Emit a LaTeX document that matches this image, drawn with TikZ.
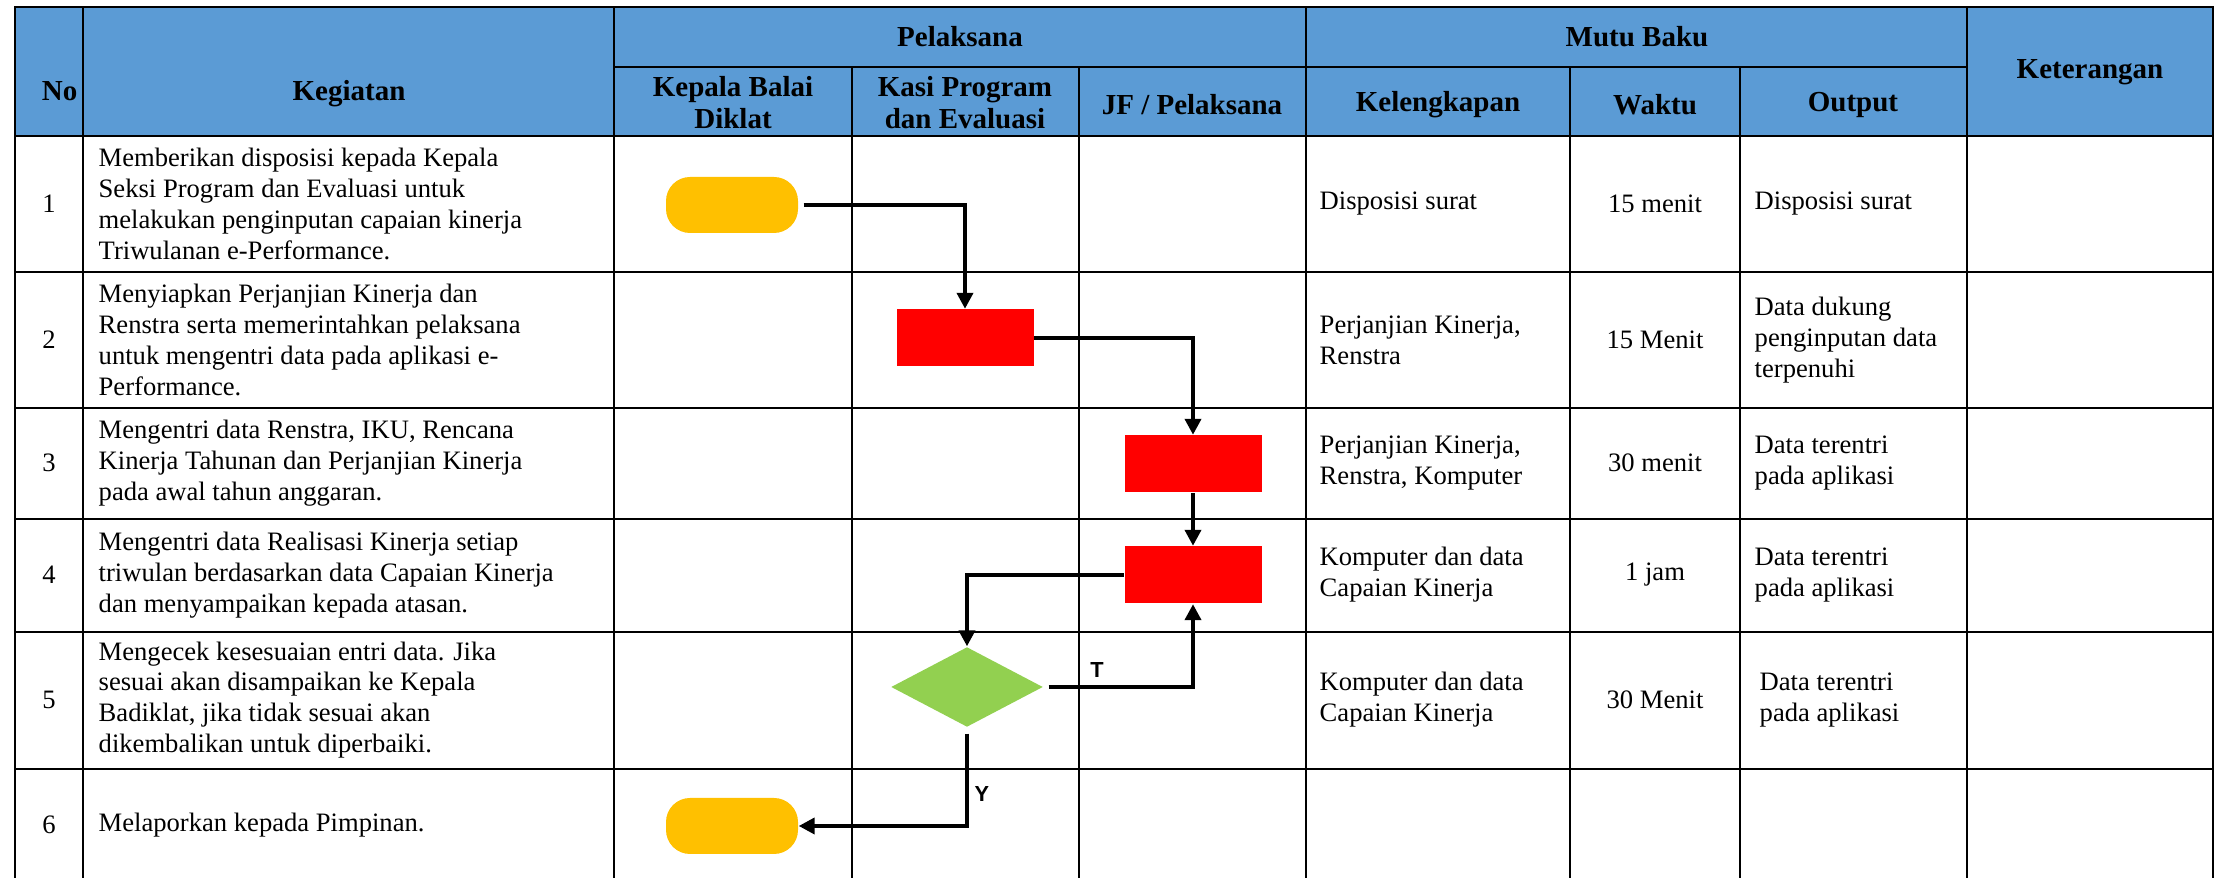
\documentclass[tikz,border=0pt]{standalone}
\usepackage{fontspec}
\setmainfont{Liberation Serif}
\setsansfont{Liberation Sans}
\usepackage{xcolor}
\usetikzlibrary{arrows.meta,shapes.geometric}
\definecolor{hdrblue}{HTML}{5B9BD5}
\definecolor{termyellow}{HTML}{FFC000}
\definecolor{procred}{HTML}{FF0000}
\definecolor{decgreen}{HTML}{92D050}

\begin{document}
\begin{tikzpicture}[x=0.1mm, y=-0.1mm,
        tableline/.style={line width=0.65pt, line cap=rect},
        hdr/.style={font=\fontsize{8.25}{9.1}\selectfont\bfseries, inner sep=0, align=center},
        cell/.style={font=\fontsize{7.57}{8.76}\selectfont, inner sep=0, align=left},
        terminal/.style={rectangle, rounded corners=2.4mm, fill=termyellow, minimum width=13.2mm, minimum height=5.6mm, inner sep=0},
        process/.style={rectangle, fill=procred, minimum width=13.7mm, minimum height=5.7mm, inner sep=0},
        decision/.style={diamond, fill=decgreen, minimum width=15.2mm, minimum height=8mm, inner sep=0},
        flow/.style={-{Triangle[length=1.6mm,width=1.6mm]}, line width=1.1pt},
        yn/.style={font=\sffamily\bfseries\fontsize{6.2}{7}\selectfont, inner sep=0}]
            \useasboundingbox (0,0) rectangle (2223,878);

            % Header background
            \fill[hdrblue] (15,7) rectangle (2213,136);

            % Table lines
            \draw[tableline] (15,7) -- (2213,7);
            \draw[tableline] (614,67) -- (1967,67);
            \foreach \y in {136,272,408,519,632,769}
                \draw[tableline] (15,\y) -- (2213,\y);
            \foreach \x in {15,83,614,1306,1967,2213}
                \draw[tableline] (\x,7) -- (\x,878);
            \foreach \x in {852,1079,1570,1740}
                \draw[tableline] (\x,67) -- (\x,878);

            % Header
            \node[hdr, anchor=base east] (hno) at (78,101) {No};
            \node[hdr, anchor=base] (hkegiatan) at (349,101) {Kegiatan};
            \node[hdr] (hpelaksana) at (960,37) {Pelaksana};
            \node[hdr] (hmutu) at (1637,37) {Mutu Baku};
            \node[hdr] (hketerangan) at (2090,72) {Keterangan};
            \node[hdr] (hkepala) at (733,103) {Kepala Balai\\Diklat};
            \node[hdr] (hkasi) at (965,103) {Kasi Program\\dan Evaluasi};
            \node[hdr] (hjf) at (1192,105) {JF / Pelaksana};
            \node[hdr] (hkelengkapan) at (1438,105) {Kelengkapan};
            \node[hdr] (hwaktu) at (1655,105) {Waktu};
            \node[hdr] (houtput) at (1853,105) {Output};

            % Row 1
            \node[cell] (no1) at (49,204) {1};
            \node[cell, anchor=west] (keg1) at (98,204) {Memberikan disposisi kepada Kepala\\Seksi Program dan Evaluasi untuk\\melakukan penginputan capaian kinerja\\Triwulanan e-Performance.};
            \node[cell, anchor=west] (kel1) at (1319,204) {Disposisi surat};
            \node[cell] (wak1) at (1655,204) {15 menit};
            \node[cell, anchor=west] (out1) at (1754,204) {Disposisi surat};

            % Row 2
            \node[cell] (no2) at (49,340) {2};
            \node[cell, anchor=west] (keg2) at (98,340) {Menyiapkan Perjanjian Kinerja dan\\Renstra serta memerintahkan pelaksana\\untuk mengentri data pada aplikasi e-\\Performance.};
            \node[cell, anchor=west] (kel2) at (1319,340) {Perjanjian Kinerja,\\Renstra};
            \node[cell] (wak2) at (1655,340) {15 Menit};
            \node[cell, anchor=west] (out2) at (1754,340) {Data dukung\\penginputan data\\terpenuhi};

            % Row 3
            \node[cell] (no3) at (49,463) {3};
            \node[cell, anchor=west] (keg3) at (98,463) {Mengentri data Renstra, IKU, Rencana\\Kinerja Tahunan dan Perjanjian Kinerja\\pada awal tahun anggaran.};
            \node[cell, anchor=west] (kel3) at (1319,463) {Perjanjian Kinerja,\\Renstra, Komputer};
            \node[cell] (wak3) at (1655,463) {30 menit};
            \node[cell, anchor=west] (out3) at (1754,463) {Data terentri\\pada aplikasi};

            % Row 4
            \node[cell] (no4) at (49,575) {4};
            \node[cell, anchor=west] (keg4) at (98,575) {Mengentri data Realisasi Kinerja setiap\\triwulan berdasarkan data Capaian Kinerja\\dan menyampaikan kepada atasan.};
            \node[cell, anchor=west] (kel4) at (1319,575) {Komputer dan data\\Capaian Kinerja};
            \node[cell] (wak4) at (1655,575) {1 jam};
            \node[cell, anchor=west] (out4) at (1754,575) {Data terentri\\pada aplikasi};

            % Row 5
            \node[cell] (no5) at (49,700) {5};
            \node[cell, anchor=west] (keg5) at (98,700) {Mengecek kesesuaian entri data. Jika\\sesuai akan disampaikan ke Kepala\\Badiklat, jika tidak sesuai akan\\dikembalikan untuk diperbaiki.};
            \node[cell, anchor=west] (kel5) at (1319,700) {Komputer dan data\\Capaian Kinerja};
            \node[cell] (wak5) at (1655,700) {30 Menit};
            \node[cell, anchor=west] (out5) at (1759,700) {Data terentri\\pada aplikasi};

            % Row 6
            \node[cell] (no6) at (49,825) {6};
            \node[cell, anchor=west] (keg6) at (98,825) {Melaporkan kepada Pimpinan.};

            % Flow symbols
            \node[terminal] (start) at (732,205) {};
            \node[process] (dispo) at (965,338) {};
            \node[process] (entri) at (1193,464) {};
            \node[process] (realisasi) at (1193,575) {};
            \node[decision] (cek) at (967,687) {};
            \node[terminal] (lapor) at (732,826) {};

            % Arrows
            \draw[flow] ([xshift=0.5mm]start.east) -| (dispo.north);
            \draw[flow] (dispo.east) -| (entri.north);
            \draw[flow] (entri.south) -- (realisasi.north);
            \draw[flow] (realisasi.west) -| (cek.north);
            \draw[flow] ([xshift=0.5mm]cek.east) -| (realisasi.south);
            \draw[flow] ([yshift=-0.6mm]cek.south) |- (lapor.east);

            % Decision labels
            \node[yn] (tidak) at (1097,670) {T};
            \node[yn] (ya) at (982,794) {Y};
        \end{tikzpicture}
\end{document}
